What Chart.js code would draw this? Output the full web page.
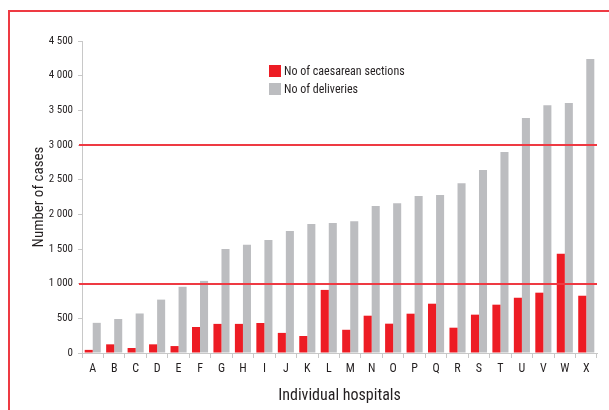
<!DOCTYPE html>
<html>
<head>
<meta charset="utf-8">
<script src="https://cdn.jsdelivr.net/npm/chart.js@4.4.0/dist/chart.umd.min.js"></script>
<style>
  html, body { margin: 0; padding: 0; background: #fff; }
  #wrap { position: relative; width: 609px; height: 410px; overflow: hidden; }
  #frame { position: absolute; left: 8px; top: 10px; width: 700px; height: 500px;
           border-left: 2px solid #ee3a43; border-top: 2px solid #ee3a43; }
  #legend { position: absolute; left: 269px; top: 65px; font-family: "Roboto Condensed", "DejaVu Sans Condensed", sans-serif;
            font-size: 12px; color: #231f20; }
  #legend div { height: 18px; line-height: 13px; }
  #legend span { display: inline-block; width: 12px; height: 12px; vertical-align: top; margin-right: 3px; }
  canvas { position: absolute; left: 0; top: 0; }
</style>
</head>
<body>
<div id="wrap">
  <div id="frame"></div>
  <canvas id="chart" width="609" height="410"></canvas>
  <div id="legend"></div>
</div>
<script>
// Hospitals A..X
const hospitals = ['A', 'B', 'C', 'D', 'E', 'F', 'G', 'H', 'I', 'J', 'K', 'L',
                   'M', 'N', 'O', 'P', 'Q', 'R', 'S', 'T', 'U', 'V', 'W', 'X'];
const caesareans = [45, 125, 72, 125, 100, 375, 420, 420, 433, 290, 245, 910,
                    335, 538, 423, 567, 711, 365, 553, 697, 797, 870, 1432, 826];
const deliveries = [435, 490, 570, 770, 955, 1040, 1500, 1560, 1630, 1760, 1860, 1875,
                    1900, 2120, 2160, 2265, 2280, 2450, 2640, 2900, 3390, 3575, 3605, 4240];
const refLines = [1000, 3000];
const seriesNames = ['No of caesarean sections', 'No of deliveries'];

const RED = '#ed1c24';
const GREY = '#bcbdc0';
const FONT = '"Roboto Condensed", "DejaVu Sans Condensed", sans-serif';

// HTML legend
const legend = document.getElementById('legend');
[[seriesNames[0], RED], [seriesNames[1], GREY]].forEach(([name, col]) => {
    const row = document.createElement('div');
    row.innerHTML = '<span style="background:' + col + '"></span>' + name;
    legend.appendChild(row);
});

// red reference lines across the plot
const refLinePlugin = {
    id: 'refLines',
    afterDatasetsDraw(chart) {
        const ctx = chart.ctx;
        const y = chart.scales.y;
        ctx.save();
        ctx.strokeStyle = '#ee3a43';
        ctx.lineWidth = 2;
        refLines.forEach(v => {
            const py = Math.round(y.getPixelForValue(v));
            ctx.beginPath();
            ctx.moveTo(chart.chartArea.left - 3, py);
            ctx.lineTo(chart.chartArea.right, py);
            ctx.stroke();
        });
        ctx.restore();
    }
};

function drawChart() {
    new Chart(document.getElementById('chart'), {
        type: 'bar',
        data: {
            labels: hospitals,
            datasets: [
                { label: seriesNames[0], data: caesareans, backgroundColor: RED },
                { label: seriesNames[1], data: deliveries, backgroundColor: GREY }
            ]
        },
        options: {
            responsive: false,
            animation: false,
            categoryPercentage: 0.75,
            barPercentage: 1.0,
            layout: { padding: { left: 30, right: 12, top: 41, bottom: 0 } },
            plugins: {
                legend: { display: false },
                tooltip: { enabled: false }
            },
            scales: {
                x: {
                    afterFit: s => { s.height = 57; },
                    grid: { display: true, drawOnChartArea: false, color: '#c8c8c8', tickLength: 5, offset: true },
                    border: { color: '#c8c8c8', width: 1 },
                    ticks: { color: '#231f20', font: { family: FONT, size: 12 }, padding: 4 },
                    title: { display: true, text: 'Individual hospitals', color: '#231f20',
                             font: { family: FONT, size: 16 }, padding: { top: 5 } }
                },
                y: {
                    min: 0,
                    max: 4500,
                    afterFit: s => { s.width = 52; },
                    ticks: {
                        stepSize: 500,
                        color: '#231f20',
                        font: { family: FONT, size: 11 },
                        padding: 5,
                        callback: v => v >= 1000 ? String(v).replace(/(\d)(\d{3})$/, '$1 $2') : String(v)
                    },
                    grid: { display: true, drawOnChartArea: false, color: '#c8c8c8', tickLength: 4 },
                    border: { color: '#c8c8c8', width: 1 },
                    title: { display: true, text: 'Number of cases', color: '#231f20',
                             font: { family: FONT, size: 15 }, padding: { top: 0, bottom: 0 } }
                }
            }
        },
        plugins: [refLinePlugin]
    });
}

document.fonts.load('16px "Roboto Condensed"').then(drawChart, drawChart);
</script>
</body>
</html>
